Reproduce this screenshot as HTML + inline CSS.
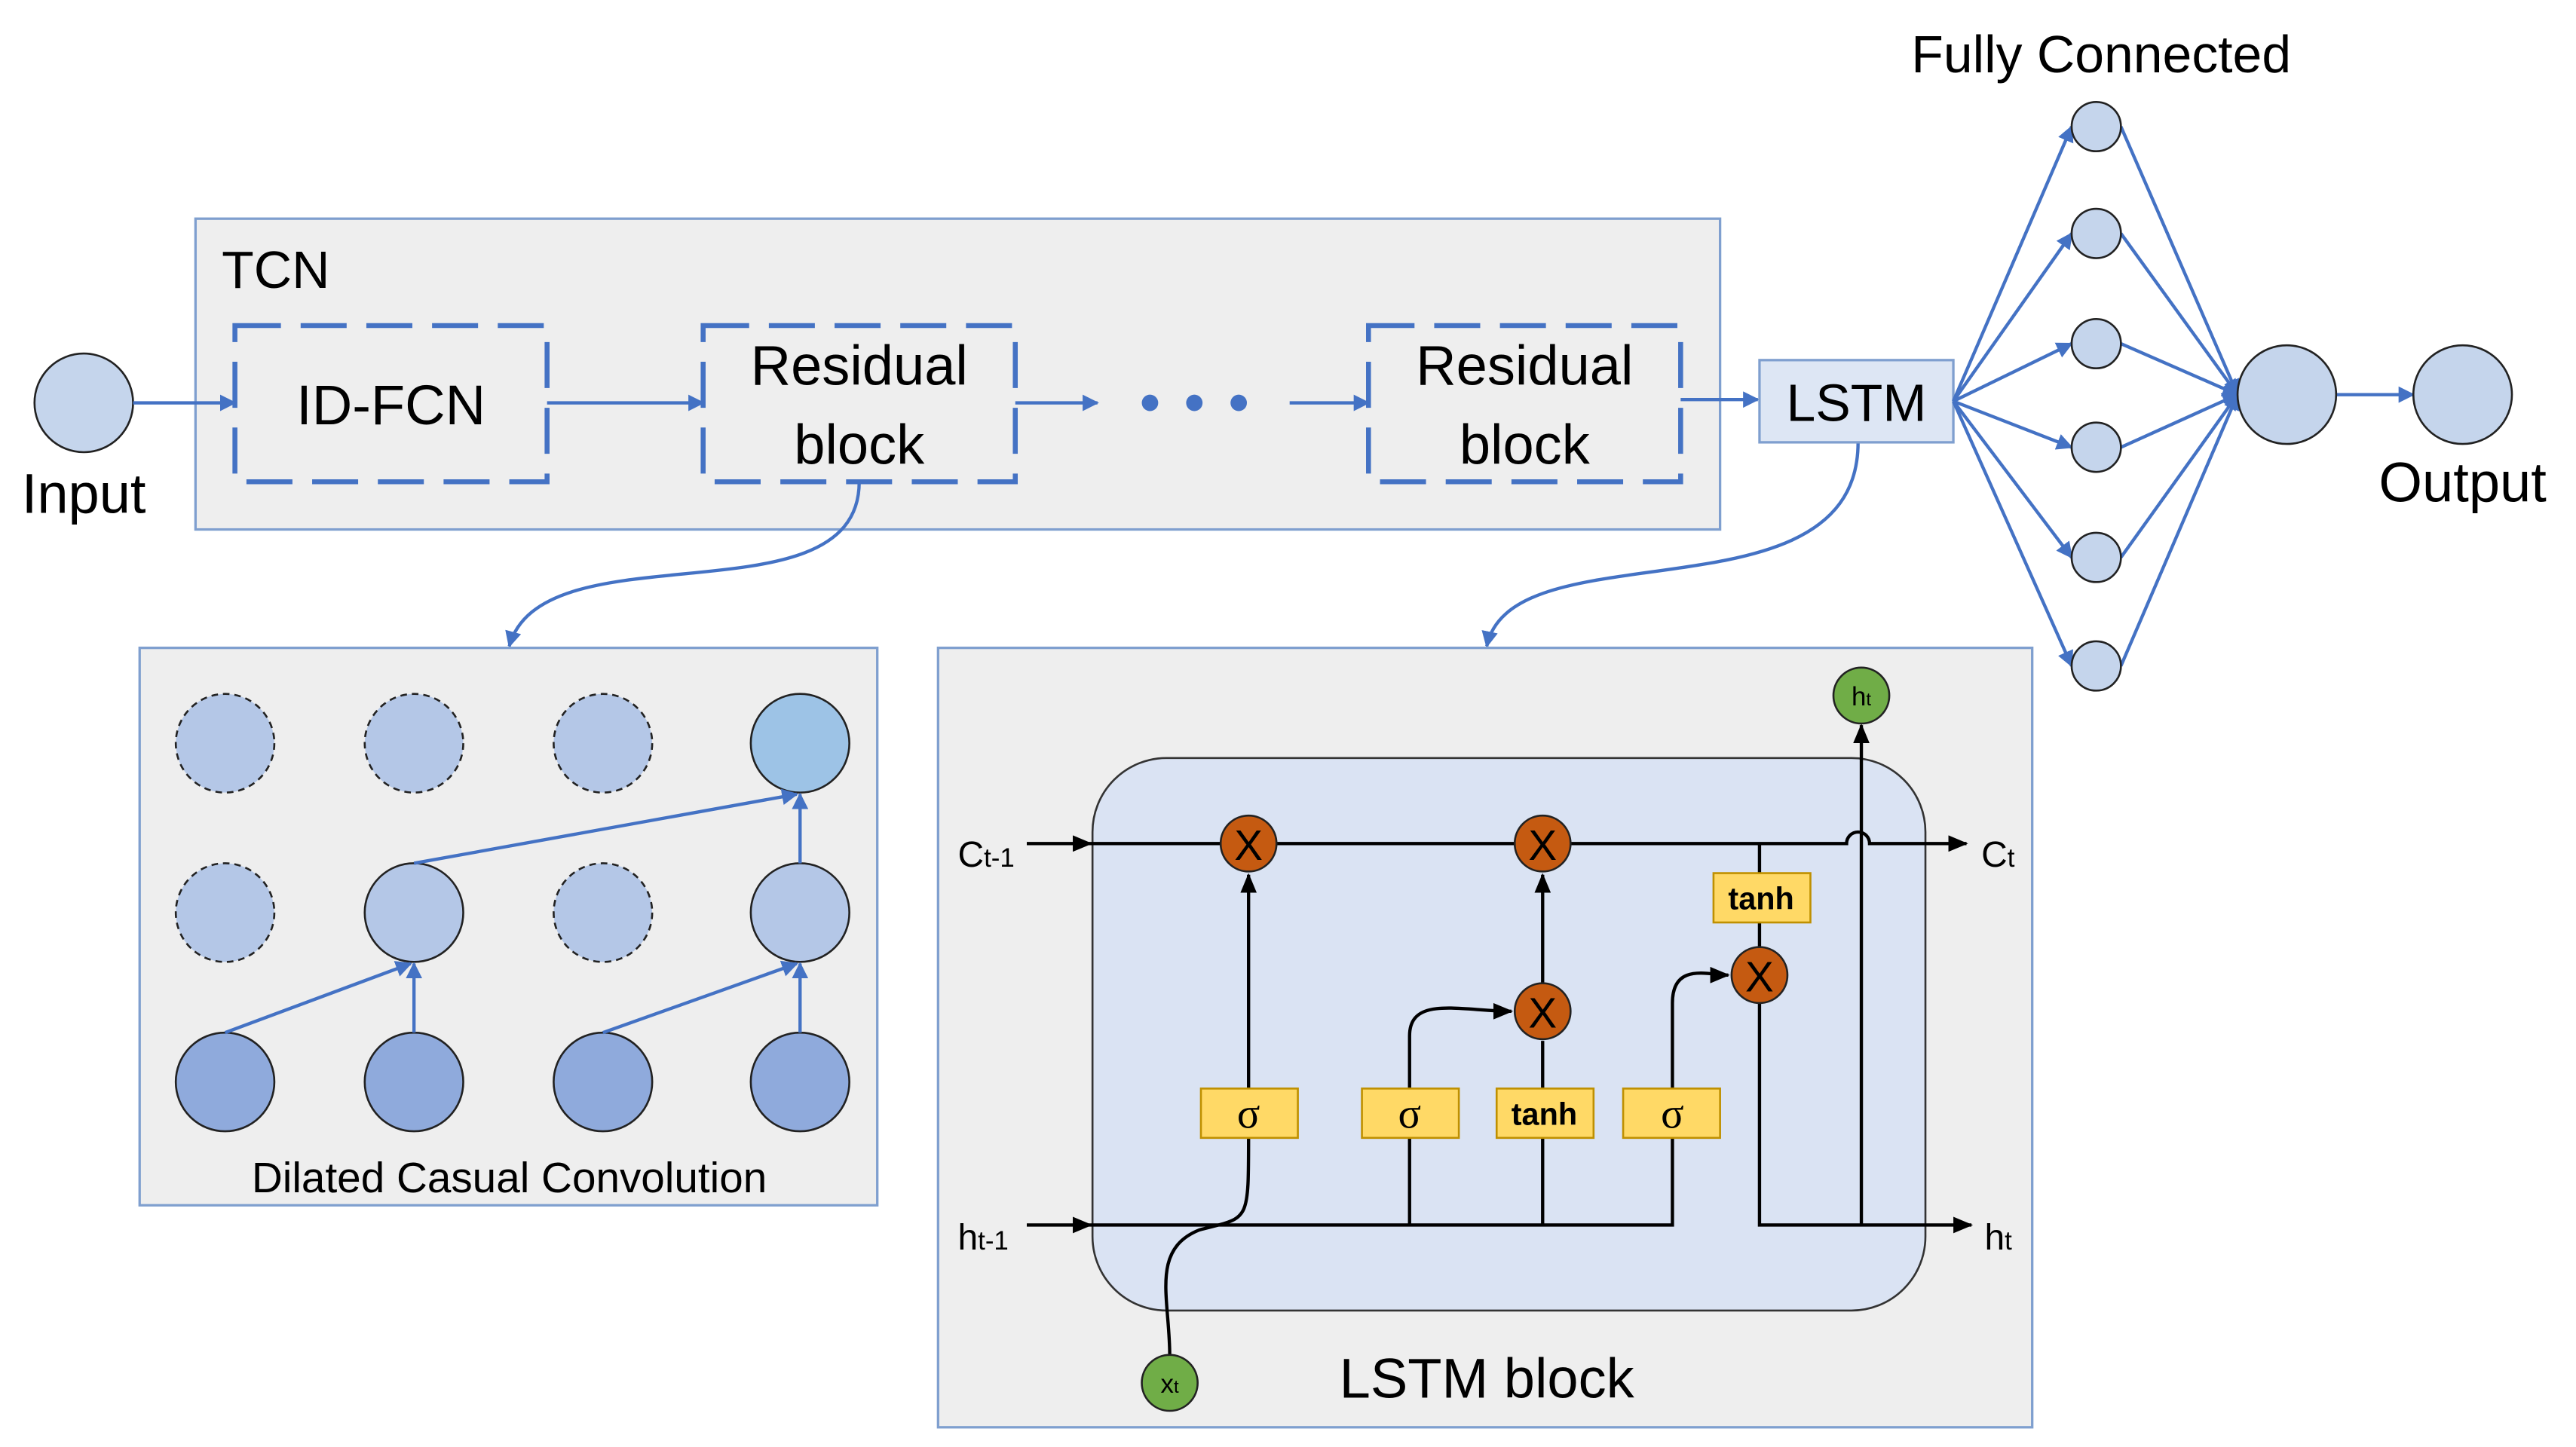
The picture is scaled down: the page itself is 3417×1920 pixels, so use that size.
<!DOCTYPE html>
<html><head><meta charset="utf-8"><style>html,body{margin:0;padding:0;background:#fff}svg{display:block}</style></head><body>
<svg width="3417" height="1920" viewBox="0 0 1568 880" preserveAspectRatio="none" xmlns="http://www.w3.org/2000/svg" font-family="Liberation Sans, sans-serif">
<defs>
<marker id="ab" markerWidth="10" markerHeight="10" refX="9" refY="5" orient="auto" markerUnits="userSpaceOnUse"><path d="M0,0 L10,5 L0,10 z" fill="#4472c4"/></marker>
<marker id="ak" markerWidth="12" markerHeight="10" refX="11" refY="5" orient="auto" markerUnits="userSpaceOnUse"><path d="M0,0 L12,5 L0,10 z" fill="#000"/></marker>
</defs>
<rect width="1568" height="880" fill="#fff"/>
<rect x="119" y="133" width="928" height="189" fill="#eeeeee" stroke="#7f9fcf" stroke-width="1.5"/>
<text x="135" y="175" font-size="32">TCN</text>
<g fill="none" stroke="#4472c4" stroke-width="3" stroke-dasharray="28,12">
<rect x="143" y="198" width="190" height="95"/>
<rect x="428" y="198" width="190" height="95"/>
<rect x="833" y="198" width="190" height="95"/>
</g>
<text x="238" y="258" font-size="34" text-anchor="middle">ID-FCN</text>
<text x="523" y="234" font-size="34" text-anchor="middle">Residual</text>
<text x="523" y="282" font-size="34" text-anchor="middle">block</text>
<text x="928" y="234" font-size="34" text-anchor="middle">Residual</text>
<text x="928" y="282" font-size="34" text-anchor="middle">block</text>
<circle cx="51" cy="245" r="30" fill="#c5d5ec" stroke="#222" stroke-width="1.2"/>
<text x="51" y="312" font-size="34" text-anchor="middle">Input</text>
<g stroke="#4472c4" stroke-width="2" fill="none" marker-end="url(#ab)">
<line x1="81" y1="245" x2="143" y2="245"/>
<line x1="333" y1="245" x2="428" y2="245"/>
<line x1="618" y1="245" x2="668" y2="245"/>
<line x1="785" y1="245" x2="833" y2="245"/>
<line x1="1023" y1="243" x2="1070" y2="243"/>
<path d="M523,293 C523,380 330,320 310,393"/>
<path d="M1131,269 C1131,380 920,320 905,393"/>
</g>
<g fill="#4472c4"><circle cx="700" cy="245" r="5"/><circle cx="727" cy="245" r="5"/><circle cx="754" cy="245" r="5"/></g>
<rect x="1071" y="219" width="118" height="50" fill="#dde6f4" stroke="#7f9fcf" stroke-width="1.5"/>
<text x="1130" y="256" font-size="32" text-anchor="middle">LSTM</text>
<text x="1279" y="44" font-size="32" text-anchor="middle">Fully Connected</text>
<g stroke="#4472c4" stroke-width="2" fill="none" marker-end="url(#ab)">
<line x1="1189" y1="244" x2="1261" y2="77"/><line x1="1189" y1="244" x2="1261" y2="142"/>
<line x1="1189" y1="244" x2="1261" y2="209"/><line x1="1189" y1="244" x2="1261" y2="272"/>
<line x1="1189" y1="244" x2="1261" y2="339"/><line x1="1189" y1="244" x2="1261" y2="405"/>
<line x1="1291" y1="77" x2="1362" y2="240"/><line x1="1291" y1="142" x2="1362" y2="240"/>
<line x1="1291" y1="209" x2="1362" y2="240"/><line x1="1291" y1="272" x2="1362" y2="240"/>
<line x1="1291" y1="339" x2="1362" y2="240"/><line x1="1291" y1="405" x2="1362" y2="240"/>
<line x1="1422" y1="240" x2="1469" y2="240"/>
</g>
<g fill="#c5d5ec" stroke="#222" stroke-width="1.2">
<circle cx="1276" cy="77" r="15"/><circle cx="1276" cy="142" r="15"/><circle cx="1276" cy="209" r="15"/>
<circle cx="1276" cy="272" r="15"/><circle cx="1276" cy="339" r="15"/><circle cx="1276" cy="405" r="15"/>
<circle cx="1392" cy="240" r="30"/><circle cx="1499" cy="240" r="30"/>
</g>
<text x="1499" y="305" font-size="34" text-anchor="middle">Output</text>
<rect x="85" y="394" width="449" height="339" fill="#eeeeee" stroke="#7f9fcf" stroke-width="1.5"/>
<g stroke="#222" stroke-width="1.2">
<g fill="#b4c7e7" stroke-dasharray="4,3">
<circle cx="137" cy="452" r="30"/><circle cx="252" cy="452" r="30"/><circle cx="367" cy="452" r="30"/>
<circle cx="137" cy="555" r="30"/><circle cx="367" cy="555" r="30"/>
</g>
<circle cx="487" cy="452" r="30" fill="#9dc3e6"/>
<circle cx="252" cy="555" r="30" fill="#b4c7e7"/><circle cx="487" cy="555" r="30" fill="#b4c7e7"/>
<g fill="#8faadc"><circle cx="137" cy="658" r="30"/><circle cx="252" cy="658" r="30"/><circle cx="367" cy="658" r="30"/><circle cx="487" cy="658" r="30"/></g>
</g>
<g stroke="#4472c4" stroke-width="2" marker-end="url(#ab)">
<line x1="137" y1="628" x2="250" y2="586"/><line x1="252" y1="628" x2="252" y2="586"/>
<line x1="367" y1="628" x2="485" y2="586"/><line x1="487" y1="628" x2="487" y2="586"/>
<line x1="252" y1="525" x2="485" y2="483"/><line x1="487" y1="525" x2="487" y2="483"/>
</g>
<text x="310" y="725" font-size="26" text-anchor="middle">Dilated Casual Convolution</text>
<rect x="571" y="394" width="666" height="474" fill="#eeeeee" stroke="#7f9fcf" stroke-width="1.5"/>
<rect x="665" y="461" width="507" height="336" rx="45" fill="#dae3f3" stroke="#333" stroke-width="1.2"/>
<g stroke="#000" stroke-width="2" fill="none">
<line x1="625" y1="513" x2="664" y2="513" marker-end="url(#ak)"/>
<path d="M664,513 H1124 a7,7 0 0 1 14,0 H1197" marker-end="url(#ak)"/>
<line x1="625" y1="745" x2="664" y2="745" marker-end="url(#ak)"/>
<path d="M664,745 H1018 V692"/>
<line x1="858" y1="745" x2="858" y2="692"/>
<line x1="939" y1="745" x2="939" y2="692"/>
<path d="M712,824 C712,790 700,760 730,748 C760,740 760,745 760,692"/>
<line x1="760" y1="662" x2="760" y2="532" marker-end="url(#ak)"/>
<path d="M858,662 V630 C858,605 890,615 920,615" marker-end="url(#ak)"/>
<line x1="939" y1="662" x2="939" y2="633"/>
<line x1="939" y1="598" x2="939" y2="532" marker-end="url(#ak)"/>
<path d="M1018,662 V610 C1018,585 1040,593 1052,593" marker-end="url(#ak)"/>
<line x1="1071" y1="513" x2="1071" y2="531"/>
<line x1="1071" y1="561" x2="1071" y2="576"/>
<path d="M1071,610 V745 H1200" marker-end="url(#ak)"/>
<line x1="1133" y1="745" x2="1133" y2="441" marker-end="url(#ak)"/>
</g>
<g fill="#c55a11" stroke="#222" stroke-width="1.2">
<circle cx="760" cy="513" r="17"/><circle cx="939" cy="513" r="17"/><circle cx="939" cy="615" r="17"/><circle cx="1071" cy="593" r="17"/>
</g>
<g font-size="26" text-anchor="middle">
<text x="760" y="523">X</text><text x="939" y="523">X</text><text x="939" y="625">X</text><text x="1071" y="603">X</text>
</g>
<g fill="#ffd966" stroke="#bf9000" stroke-width="1.2">
<rect x="1043" y="531" width="59" height="30"/>
<rect x="731" y="662" width="59" height="30"/><rect x="829" y="662" width="59" height="30"/>
<rect x="911" y="662" width="59" height="30"/><rect x="988" y="662" width="59" height="30"/>
</g>
<text x="1072" y="553" font-size="19" font-weight="bold" text-anchor="middle">tanh</text>
<text x="940" y="684" font-size="19" font-weight="bold" text-anchor="middle">tanh</text>
<g font-size="26" text-anchor="middle" font-family="Liberation Serif, serif">
<text x="760" y="686">σ</text><text x="858" y="686">σ</text><text x="1018" y="686">σ</text>
</g>
<g fill="#70ad47" stroke="#222" stroke-width="1.2"><circle cx="1133" cy="423" r="17"/><circle cx="712" cy="841" r="17"/></g>
<text x="1133" y="429" font-size="16" text-anchor="middle">h<tspan font-size="11">t</tspan></text>
<text x="712" y="847" font-size="16" text-anchor="middle">x<tspan font-size="11">t</tspan></text>
<text x="583" y="527" font-size="22">C<tspan font-size="16">t-1</tspan></text>
<text x="583" y="760" font-size="22">h<tspan font-size="16">t-1</tspan></text>
<text x="1206" y="527" font-size="22">C<tspan font-size="16">t</tspan></text>
<text x="1208" y="760" font-size="22">h<tspan font-size="16">t</tspan></text>
<text x="905" y="850" font-size="34" text-anchor="middle">LSTM block</text>
</svg>
</body></html>
